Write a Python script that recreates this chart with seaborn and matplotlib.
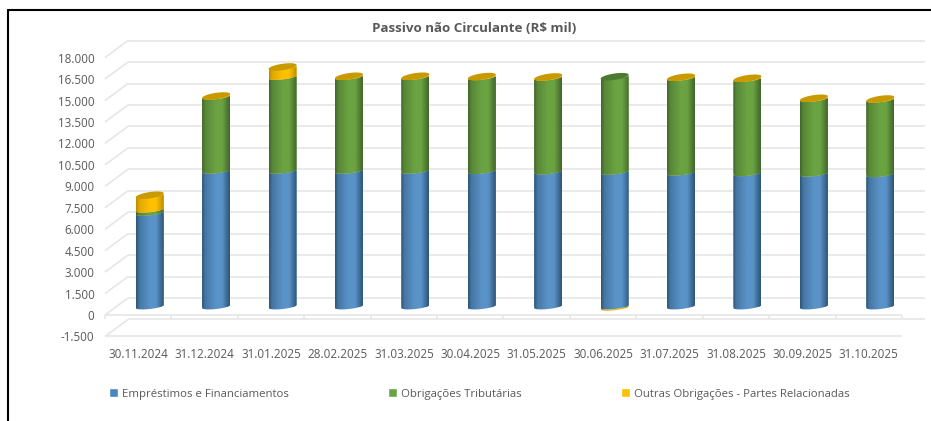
import numpy as np
import pandas as pd
import matplotlib
matplotlib.use("Agg")
import matplotlib.pyplot as plt
from matplotlib.colors import LinearSegmentedColormap
from matplotlib.patches import Polygon, Rectangle
from matplotlib.transforms import ScaledTranslation
import seaborn as sns

dates = ["30.11.2024", "31.12.2024", "31.01.2025", "28.02.2025", "31.03.2025", "30.04.2025",
         "31.05.2025", "30.06.2025", "31.07.2025", "31.08.2025", "30.09.2025", "31.10.2025"]
emprestimos = [6540, 9480, 9480, 9480, 9480, 9460, 9430, 9410, 9350, 9310, 9280, 9240]
tributarias = [220, 5190, 6570, 6570, 6570, 6570, 6570, 6660, 6630, 6600, 5230, 5220]
outras = [1020, 50, 700, 50, 50, 50, 50, -90, 50, 50, 50, 50]
series_names = ["Empréstimos e Financiamentos", "Obrigações Tributárias",
                "Outras Obrigações - Partes Relacionadas"]
y_ticks = [-1500, 0, 1500, 3000, 4500, 6000, 7500, 9000, 10500, 12000, 13500, 15000, 16500, 18000]
y_tick_labels = ["-1.500", "0", "1.500", "3.000", "4.500", "6.000", "7.500", "9.000",
                 "10.500", "12.000", "13.500", "15.000", "16.500", "18.000"]
title = "Passivo não Circulante (R$ mil)"

W, H = 931, 421
FONT = "Open Sans"
TXT = "#595959"
GRID = "#e6e6e6"

sns.set_theme(style="white")
plt.rcParams["font.family"] = FONT
fig = plt.figure(figsize=(W / 100, H / 100), dpi=100, facecolor="white")

# axes: mid-depth plane of the 3D box
px_l, px_r = 116.5, 913.5
y0_px, px_per_unit = 306.5, 14.3 / 1000
ymin, ymax = -1500, 18000
px_top = y0_px - ymax * px_per_unit
px_bot = y0_px - ymin * px_per_unit
ax = fig.add_axes([px_l / W, 1 - px_bot / H, (px_r - px_l) / W, (px_bot - px_top) / H])
ax.patch.set_alpha(0)
for s in ax.spines.values():
    s.set_visible(False)

x_unit = (px_r - px_l) / 12          # px per category
dx_d, dy_d = 11.5 / x_unit, 8.5 / px_per_unit  # half depth, in data units
px_x, px_y = 1 / x_unit, 1 / px_per_unit       # one pixel in data units

colors = ["#5a93c8", "#6ba342", "#ffc000"]
edges = ["#2c5475", "#42652b", "#b98c00"]
caps = ["#3f6f9c", "#4c7a30", "#c89a00"]

emp = np.array(emprestimos, float)
tri = np.array(tributarias, float)
out = np.array(outras, float)
pos_out = np.where(out > 0, out, 0)
neg_out = np.where(out < 0, out, 0)
bottoms = [np.zeros(12), emp, emp + tri]
heights = [emp, tri, pos_out]

for i, (h, b) in enumerate(zip(heights, bottoms)):
    df = pd.DataFrame({"data": dates, "valor": h})
    sns.barplot(data=df, x="data", y="valor", color=colors[i], width=28 / x_unit,
                bottom=b, saturation=1, ax=ax, zorder=3, linewidth=0)
series_bars = [ax.patches[k * 12:(k + 1) * 12] for k in range(3)]
# small negative remainder below zero
ax.bar(range(12), neg_out, width=28 / x_unit, color=colors[2], zorder=2.5, linewidth=0)
neg_bars = ax.patches[36:48]

ax.set_xlim(-0.5, 11.5)
ax.set_ylim(ymin, ymax)
ax.set_xlabel("")
ax.set_ylabel("")

# grid: back wall, side wall, floor
back = dict(color=GRID, lw=1.2, zorder=1, clip_on=False, solid_capstyle="butt")
xb0, xb1 = -0.5 + dx_d, 11.5 + dx_d
xf0, xf1 = -0.5 - dx_d, 11.5 - dx_d
for v in y_ticks:
    ax.plot([xb0, xb1], [v + dy_d, v + dy_d], **back)
    ax.plot([xf0, xb0], [v - dy_d, v + dy_d], **back)
ax.plot([xf0, xf1], [ymin - dy_d, ymin - dy_d], **back)
ax.plot([xf0, xf1], [-dy_d, -dy_d], **back)
for k in range(13):
    xk = -0.5 - dx_d + k
    ax.plot([xk, xk], [-dy_d, -dy_d - 4 * px_y], **back)

# cylinder shading on the seaborn bars
t = np.linspace(0, 1, 256)
shade = np.interp(t, [0, .12, .5, .72, 1], [0, .55, 1, 1, 0])
R = 14 * px_x


def arc(xc, yv, ry=2.5, tilt=1.5):
    a = np.linspace(np.pi, 0, 40)
    return np.column_stack([xc + R * np.cos(a),
                            yv - ry * px_y * np.sin(a) + tilt * px_y * np.cos(a)])


def dress(bar, idx):
    h = bar.get_height()
    if h == 0:
        bar.set_visible(False)
        return
    xc = bar.get_x() + bar.get_width() / 2
    lo, hi = sorted([bar.get_y(), bar.get_y() + h])
    poly = np.vstack([arc(xc, lo), arc(xc, hi)[::-1]])
    clip = Polygon(poly, closed=True, transform=ax.transData)
    bar.set_clip_path(clip)
    cmap = LinearSegmentedColormap.from_list("c", [edges[idx], colors[idx]])
    im = ax.imshow(shade[None, :], cmap=cmap, vmin=0, vmax=1, aspect="auto", origin="lower",
                   extent=[xc - R, xc + R, lo - 5 * px_y, hi + 5 * px_y],
                   zorder=bar.get_zorder() + 0.1 * (idx + 1), interpolation="bilinear")
    im.set_clip_path(clip)


for i, bars in enumerate(series_bars):
    for bar in bars:
        dress(bar, i)
for bar in neg_bars:
    dress(bar, 2)

# top caps
for j in range(12):
    idx = 2 if out[j] > 0 else 1
    top = emp[j] + tri[j] + pos_out[j]
    a = np.linspace(0, 2 * np.pi, 80)
    xc = series_bars[0][j].get_x() + series_bars[0][j].get_width() / 2
    xs = xc + R * np.cos(a)
    ys = top - 3.2 * px_y * np.sin(a) + 2.0 * px_y * np.cos(a)
    ax.add_patch(Polygon(np.column_stack([xs, ys]), closed=True, facecolor=caps[idx],
                         edgecolor="none", zorder=4))

ax.set_xlim(-0.5, 11.5)
ax.set_ylim(ymin, ymax)

# tick labels live on the front plane
ax.set_yticks(y_ticks, y_tick_labels)
ax.set_xticks(range(12), dates)
ax.tick_params(axis="both", length=0, labelsize=8.4, labelcolor=TXT)
ax.tick_params(axis="y", pad=7.5)
ax.tick_params(axis="x", pad=8)
offset = ScaledTranslation(-11.5 / 100, -8.5 / 100, fig.dpi_scale_trans)
for lab in ax.get_xticklabels() + ax.get_yticklabels():
    lab.set_transform(lab.get_transform() + offset)

fig.text(474.5 / W, 1 - 28 / H, title, ha="center", va="center", fontsize=9.6,
         fontweight="bold", color=TXT)

# legend
handles = [Rectangle((0, 0), 1, 1, facecolor=colors[i] if i else "#4a86bd") for i in range(3)]
fig.legend(handles, series_names, ncol=3, loc="center", bbox_to_anchor=(479 / W, 1 - 394 / H),
           frameon=False, fontsize=8.2, labelcolor=TXT, handlelength=0.85, handleheight=0.85,
           handletextpad=0.3, columnspacing=8.7, borderpad=0, borderaxespad=0)

# outer frame (left and top edges are visible)
fig.add_artist(plt.Line2D([7.5 / W, 7.5 / W], [0, 1 - 9.5 / H], color="black", lw=1.5))
fig.add_artist(plt.Line2D([7.5 / W, 1], [1 - 9.5 / H, 1 - 9.5 / H], color="black", lw=1.5))

fig.savefig("out.png", dpi=100, facecolor="white")
